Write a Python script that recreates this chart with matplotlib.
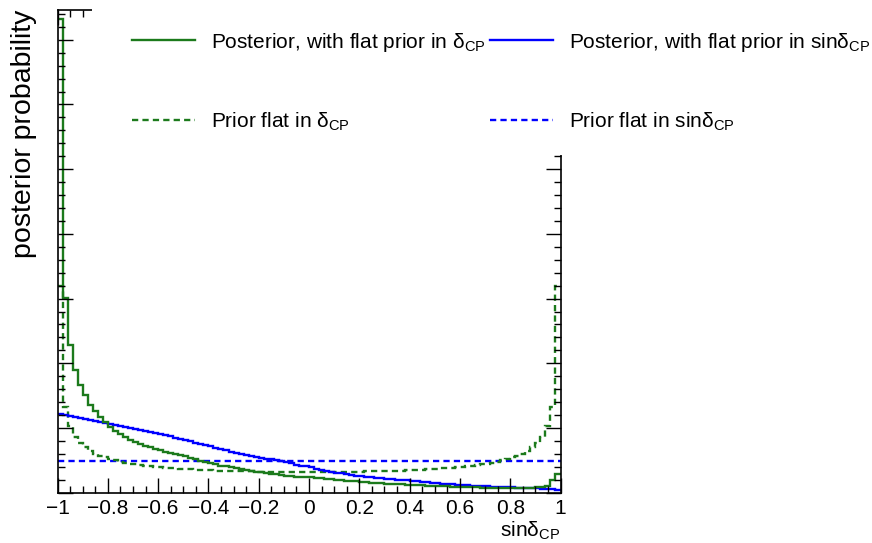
import numpy as np
import matplotlib
matplotlib.use('Agg')
import matplotlib.pyplot as plt
from matplotlib.lines import Line2D
from matplotlib.patches import Rectangle
from matplotlib.ticker import MultipleLocator, FuncFormatter

plt.rcParams['font.family'] = ['Liberation Sans', 'DejaVu Sans']
plt.rcParams['mathtext.fontset'] = 'custom'
plt.rcParams['mathtext.rm'] = 'Liberation Sans'
plt.rcParams['mathtext.it'] = 'Liberation Sans'
plt.rcParams['lines.scale_dashes'] = False

# 100 bins in sin(delta_CP) from -1 to 1
n_bins = 100
x_min, x_max = -1.0, 1.0

# posterior, flat prior in delta_CP (green solid)
post_flat_delta = [
    0.1464, 0.0601, 0.0457, 0.0379, 0.0333, 0.0302, 0.0272, 0.0251, 0.0234, 0.0217,
    0.0204, 0.0191, 0.0180, 0.0172, 0.0164, 0.0157, 0.0150, 0.0145, 0.0140, 0.0135,
    0.0131, 0.0127, 0.0123, 0.0120, 0.0116, 0.0112, 0.0107, 0.0103, 0.0098, 0.0094,
    0.0091, 0.0088, 0.0084, 0.0081, 0.0078, 0.0075, 0.0072, 0.0070, 0.0067, 0.0065,
    0.0063, 0.0061, 0.0059, 0.0057, 0.0055, 0.0053, 0.0052, 0.0050, 0.0049, 0.0048,
    0.0047, 0.0045, 0.0044, 0.0042, 0.0041, 0.0040, 0.0038, 0.0037, 0.0036, 0.0035,
    0.0034, 0.0033, 0.0031, 0.0030, 0.0029, 0.0028, 0.0028, 0.0027, 0.0026, 0.0025,
    0.0024, 0.0023, 0.0023, 0.0022, 0.0021, 0.0021, 0.0020, 0.0020, 0.0019, 0.0019,
    0.0018, 0.0018, 0.0017, 0.0017, 0.0016, 0.0016, 0.0016, 0.0015, 0.0015, 0.0015,
    0.0015, 0.0015, 0.0015, 0.0016, 0.0016, 0.0017, 0.0018, 0.0021, 0.0039, 0.0057,
]

# posterior, flat prior in sin(delta_CP) (blue solid)
post_flat_sin = [
    0.0244, 0.0241, 0.0238, 0.0235, 0.0232, 0.0229, 0.0226, 0.0223, 0.0219, 0.0216,
    0.0213, 0.0210, 0.0207, 0.0203, 0.0200, 0.0197, 0.0194, 0.0191, 0.0187, 0.0184,
    0.0181, 0.0177, 0.0174, 0.0170, 0.0167, 0.0163, 0.0159, 0.0155, 0.0151, 0.0147,
    0.0143, 0.0139, 0.0135, 0.0131, 0.0127, 0.0123, 0.0120, 0.0117, 0.0114, 0.0110,
    0.0108, 0.0105, 0.0103, 0.0100, 0.0097, 0.0094, 0.0091, 0.0087, 0.0084, 0.0081,
    0.0078, 0.0074, 0.0071, 0.0068, 0.0065, 0.0062, 0.0060, 0.0058, 0.0056, 0.0053,
    0.0051, 0.0050, 0.0048, 0.0046, 0.0045, 0.0043, 0.0042, 0.0040, 0.0039, 0.0038,
    0.0036, 0.0035, 0.0033, 0.0032, 0.0030, 0.0029, 0.0028, 0.0027, 0.0026, 0.0025,
    0.0024, 0.0023, 0.0022, 0.0022, 0.0021, 0.0020, 0.0019, 0.0019, 0.0018, 0.0017,
    0.0017, 0.0016, 0.0015, 0.0015, 0.0014, 0.0013, 0.0012, 0.0011, 0.0010, 0.0009,
]

# prior flat in delta_CP (green dashed)
prior_flat_delta = [
    0.0638, 0.0266, 0.0205, 0.0173, 0.0154, 0.0140, 0.0129, 0.0121, 0.0114, 0.0109,
    0.0104, 0.0100, 0.0096, 0.0093, 0.0090, 0.0088, 0.0086, 0.0084, 0.0082, 0.0080,
    0.0079, 0.0077, 0.0076, 0.0075, 0.0074, 0.0073, 0.0072, 0.0071, 0.0071, 0.0070,
    0.0069, 0.0068, 0.0068, 0.0067, 0.0067, 0.0067, 0.0066, 0.0066, 0.0066, 0.0065,
    0.0065, 0.0065, 0.0064, 0.0064, 0.0064, 0.0064, 0.0064, 0.0064, 0.0064, 0.0064,
    0.0064, 0.0064, 0.0064, 0.0064, 0.0064, 0.0064, 0.0064, 0.0064, 0.0065, 0.0065,
    0.0065, 0.0066, 0.0066, 0.0066, 0.0067, 0.0067, 0.0067, 0.0068, 0.0068, 0.0069,
    0.0070, 0.0071, 0.0071, 0.0072, 0.0073, 0.0074, 0.0075, 0.0076, 0.0077, 0.0079,
    0.0080, 0.0082, 0.0084, 0.0086, 0.0088, 0.0090, 0.0093, 0.0096, 0.0100, 0.0104,
    0.0109, 0.0114, 0.0121, 0.0129, 0.0140, 0.0154, 0.0173, 0.0205, 0.0266, 0.0638,
]

# prior flat in sin(delta_CP) (blue dashed)
prior_flat_sin = [0.0098] * n_bins

labels = [
    'Posterior, with flat prior in δ$_{\\mathrm{CP}}$',
    'Posterior, with flat prior in sinδ$_{\\mathrm{CP}}$',
    'Prior flat in δ$_{\\mathrm{CP}}$',
    'Prior flat in sinδ$_{\\mathrm{CP}}$',
]

green = '#1c7a1c'
blue = '#0000ff'
lw = 1.7
dash = (0, (4.5, 3.0))


def tick_fmt(v, pos):
    v = round(v, 6)
    if v == 0:
        return '0'
    return f'{v:g}'.replace('-', '\u2212')


edges = np.linspace(x_min, x_max, n_bins + 1)

fig = plt.figure(figsize=(8.72, 5.43), dpi=100)
ax = fig.add_axes([57.5 / 872, 1 - 492.7 / 543, 503 / 872, 482.7 / 543])

ax.stairs(prior_flat_sin, edges, baseline=None, color=blue, lw=lw, ls=dash)
ax.stairs(prior_flat_delta, edges, baseline=None, color=green, lw=lw, ls=dash)
ax.stairs(post_flat_sin, edges, baseline=None, color=blue, lw=lw)
ax.stairs(post_flat_delta, edges, baseline=None, color=green, lw=lw)

ax.set_xlim(x_min, x_max)
ax.set_ylim(0, 0.1492)
ax.xaxis.set_major_locator(MultipleLocator(0.2))
ax.xaxis.set_minor_locator(MultipleLocator(0.05))
ax.yaxis.set_major_locator(MultipleLocator(0.02))
ax.yaxis.set_minor_locator(MultipleLocator(0.004))
ax.xaxis.set_major_formatter(FuncFormatter(tick_fmt))
ax.tick_params(which='both', direction='in', top=True, right=True,
               labelleft=False, width=1.0, labelsize=15, pad=4.5)
ax.tick_params(which='major', length=10.5)
ax.tick_params(which='minor', length=5)
for s in ax.spines.values():
    s.set_linewidth(1.2)

ax.set_xlabel('sinδ$_{\\mathrm{CP}}$', fontsize=15, ha='right', va='top')
ax.xaxis.set_label_coords(1.0, -0.055)
ax.set_ylabel('posterior probability', fontsize=20.5, ha='right')
ax.yaxis.set_label_coords(-0.041, 1.0)

# white legend pad over the top of the frame, as in the original
fig.add_artist(Rectangle((92 / 872, 1 - 155 / 543), 1.0, 155 / 543 + 0.01,
                         transform=fig.transFigure, fc='white', ec='none', zorder=2))

h_post_delta = Line2D([], [], color=green, lw=lw)
h_post_sin = Line2D([], [], color=blue, lw=lw)
h_prior_delta = Line2D([], [], color=green, lw=lw, ls=dash)
h_prior_sin = Line2D([], [], color=blue, lw=lw, ls=dash)

leg_kw = dict(loc='upper left', frameon=False, fontsize=15, borderpad=0,
              borderaxespad=0, handlelength=3.0, handletextpad=0.8,
              labelspacing=2.75)
leg1 = fig.legend([h_post_delta, h_prior_delta], [labels[0], labels[2]],
                  bbox_to_anchor=(132 / 872, 1 - 30.5 / 543), **leg_kw)
leg2 = fig.legend([h_post_sin, h_prior_sin], [labels[1], labels[3]],
                  bbox_to_anchor=(490 / 872, 1 - 30.5 / 543), **leg_kw)
leg1.set_zorder(5)
leg2.set_zorder(5)

fig.savefig('out.png', dpi=100)
